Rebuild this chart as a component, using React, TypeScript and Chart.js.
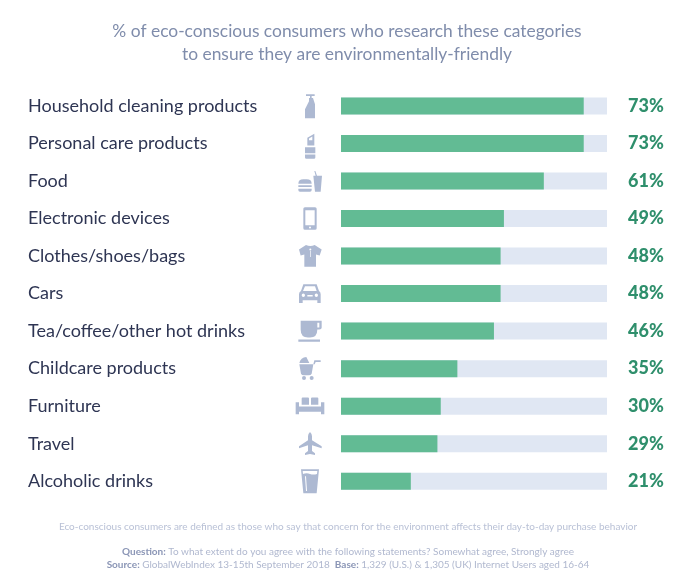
import React, { useEffect, useRef } from "react";
import { Chart, registerables } from "chart.js";

Chart.register(...registerables);

const categories = [
  "Household cleaning products",
  "Personal care products",
  "Food",
  "Electronic devices",
  "Clothes/shoes/bags",
  "Cars",
  "Tea/coffee/other hot drinks",
  "Childcare products",
  "Furniture",
  "Travel",
  "Alcoholic drinks",
];
const values = [73, 73, 61, 49, 48, 48, 46, 35, 30, 29, 21];
const valueLabels = ["73%", "73%", "61%", "49%", "48%", "48%", "46%", "35%", "30%", "29%", "21%"];
const trackValues = [80, 80, 80, 80, 80, 80, 80, 80, 80, 80, 80];
const titleLines = [
  "% of eco-conscious consumers who research these categories",
  "to ensure they are environmentally-friendly",
];
const definitionNote =
  "Eco-conscious consumers are defined as those who say that concern for the environment affects their day-to-day purchase behavior";
const questionNote = [
  { text: "Question: ", bold: true },
  { text: "To what extent do you agree with the following statements? Somewhat agree, Strongly agree", bold: false },
];
const sourceNote = [
  { text: "Source: ", bold: true },
  { text: "GlobalWebIndex 13-15th September 2018  ", bold: false },
  { text: "Base: ", bold: true },
  { text: "1,329 (U.S.) & 1,305 (UK) Internet Users aged 16-64", bold: false },
];

const FONT = "Lato, 'Noto Sans', sans-serif";
const ICON_COLOR = "#adb9d2";

// Icon outlines, one per category, in 3x pixel units around the icon's centre.
const iconPaths = [
  "M-12 -35H14V-30H5V-24H9L15 -5V37H-15V10L-3 -14V-24H0V-30H-12Z",
  "M-8 -17L13 -29V6H-8Z M-3 -15L7 -21V-10H-3Z M-15 11H16V29H-15Z M-15 33H16V42Q16 46 12 46H-11Q-15 46 -15 42Z",
  "M-35 8Q-35 -5 -20 -5H-10Q5 -5 5 8Z M-35 13H5V18H-35Z M-35 23H5V27Q5 32 0 32H-30Q-35 32 -35 27Z M10 -16H17L13 -30H16L21 -16H36L32 32H15Z",
  "M-15 -34H15Q20 -34 20 -29V29Q20 34 15 34H-15Q-20 34 -20 29V-29Q-20 -34 -15 -34Z M-14 -25V20H14V-25Z M-3 27A3 3 0 1 0 3 27A3 3 0 1 0 -3 27Z",
  "M-12 -33L-33 -20L-28 -2L-17 -5V32H18V-5L29 -2L35 -20L14 -33Q1 -27 -12 -33Z M-2 -20A3 3 0 1 0 4 -20A3 3 0 1 0 -2 -20Z M0 -15H2V3H0Z",
  "M-20 -28H20L27 -8Q32 -5 32 2V28H22V20H-22V28H-33V2Q-33 -5 -27 -8Z M-15 -22L-21 -8H20L15 -22Z M-25 5A5 5 0 1 0 -15 5A5 5 0 1 0 -25 5Z M14 5A5 5 0 1 0 24 5A5 5 0 1 0 14 5Z M-8 4V9H8V4Z",
  "M-28 -31H22V-5Q22 19 0 19H-6Q-28 19 -28 -5Z M22 -31H35V-10Q35 -5 28 -5H22V-11H28V-25H22Z M-35 25H30V32H-35Z",
  "M-32 -13H10L5 15Q3 20 -5 20H-18Q-25 20 -27 15Z M-32 -17A21 21 0 0 1 -11 -35L-2 -17Z M10 -13L13 -25H32V-20H17L14 -13Z M-24 28A6 6 0 1 0 -12 28A6 6 0 1 0 -24 28Z M-1 28A6 6 0 1 0 11 28A6 6 0 1 0 -1 28Z",
  "M-25 -23Q-25 -26 -22 -26H-6Q-3 -26 -3 -23V-4H-25Z M3 -23Q3 -26 6 -26H22Q25 -26 25 -23V-4H3Z M-43 -12H-33V1H33V-12H43V24H33V17H-33V24H-43Z",
  "M0 -35Q6 -30 6 -22V-10L35 8V14L6 5V22L15 29V34L0 31L-15 34V29L-6 22V5L-33 14V8L-6 -10V-22Q-6 -30 0 -35Z",
  "M-27 -36H27L20 36H-20Z M-22 -31L-21 -22Q-10 -26 0 -22Q10 -18 21 -22L22 -31Z M-15 -15L-12 29H-9L-12 -15Z",
];

const decorationsPlugin = {
  id: "decorations",
  afterDraw(chart: any) {
    const { ctx } = chart;
    const y = chart.scales.y;
    ctx.save();
    ctx.fillStyle = ICON_COLOR;
    iconPaths.forEach((d, i) => {
      ctx.save();
      ctx.translate(310, y.getPixelForValue(i));
      ctx.scale(1 / 3, 1 / 3);
      ctx.fill(new Path2D(d), "evenodd");
      ctx.restore();
    });

    ctx.textBaseline = "middle";
    ctx.textAlign = "left";
    const centerX = 348;
    ctx.font = `400 10px ${FONT}`;
    ctx.fillStyle = "#b9c1d6";
    ctx.fillText(definitionNote, centerX - ctx.measureText(definitionNote).width / 2, 527);

    const drawSegments = (segs: { text: string; bold: boolean }[], py: number) => {
      const fontOf = (b: boolean) => `${b ? 700 : 400} 10px ${FONT}`;
      let total = 0;
      segs.forEach((s) => {
        ctx.font = fontOf(s.bold);
        total += ctx.measureText(s.text).width;
      });
      let x = centerX - total / 2;
      segs.forEach((s) => {
        ctx.font = fontOf(s.bold);
        ctx.fillStyle = s.bold ? "#8b96b6" : "#b0b8cf";
        ctx.fillText(s.text, x, py);
        x += ctx.measureText(s.text).width;
      });
    };
    drawSegments(questionNote, 552);
    drawSegments(sourceNote, 565);
    ctx.restore();
  },
};

export default function App() {
  const ref = useRef<HTMLCanvasElement>(null);
  useEffect(() => {
    const chart = new Chart(ref.current!, {
      type: "bar",
      data: {
        labels: categories,
        datasets: [
          {
            label: "Researching consumers",
            data: values,
            backgroundColor: "#62bb94",
            grouped: false,
            order: 1,
            yAxisID: "y",
            xAxisID: "x",
            barPercentage: 0.453,
            categoryPercentage: 1,
          },
          {
            label: "Scale",
            data: trackValues,
            backgroundColor: "#e0e7f3",
            grouped: false,
            order: 2,
            yAxisID: "y",
            xAxisID: "x",
            barPercentage: 0.453,
            categoryPercentage: 1,
          },
        ],
      } as any,
      options: {
        indexAxis: "y",
        animation: false,
        responsive: false,
        layout: { padding: { left: 28, right: 34, top: 0, bottom: 82 } },
        plugins: {
          legend: { display: false },
          tooltip: { enabled: false },
          title: {
            display: true,
            text: titleLines,
            color: "#7f8cab",
            font: { family: FONT, size: 17.4, weight: "400", lineHeight: 1.32 },
            padding: { top: 20, bottom: 21.25 },
          },
        },
        scales: {
          x: { display: false, min: 0, max: 80 },
          y: {
            type: "category",
            position: "left",
            grid: { display: false },
            border: { display: false },
            afterFit: (s: any) => { s.width = 313; },
            ticks: {
              crossAlign: "far",
              color: "#2e3553",
              font: { family: FONT, size: 18, weight: "400" },
              autoSkip: false,
            },
          },
          y2: {
            type: "category",
            position: "right",
            labels: valueLabels,
            grid: { display: false, drawTicks: false },
            border: { display: false },
            afterFit: (s: any) => { s.width = 59; },
            ticks: {
              padding: 21,
              color: "#2f8f6c",
              font: { family: FONT, size: 18, weight: "900" },
              autoSkip: false,
            },
          },
        },
      } as any,
      plugins: [decorationsPlugin],
    });
    return () => chart.destroy();
  }, []);
  return (
    <div style={{ position: "absolute", left: 0, top: 0, width: 700, height: 582, background: "#fff" }}>
      <canvas ref={ref} width={700} height={582} style={{ display: "block" }} />
    </div>
  );
}
